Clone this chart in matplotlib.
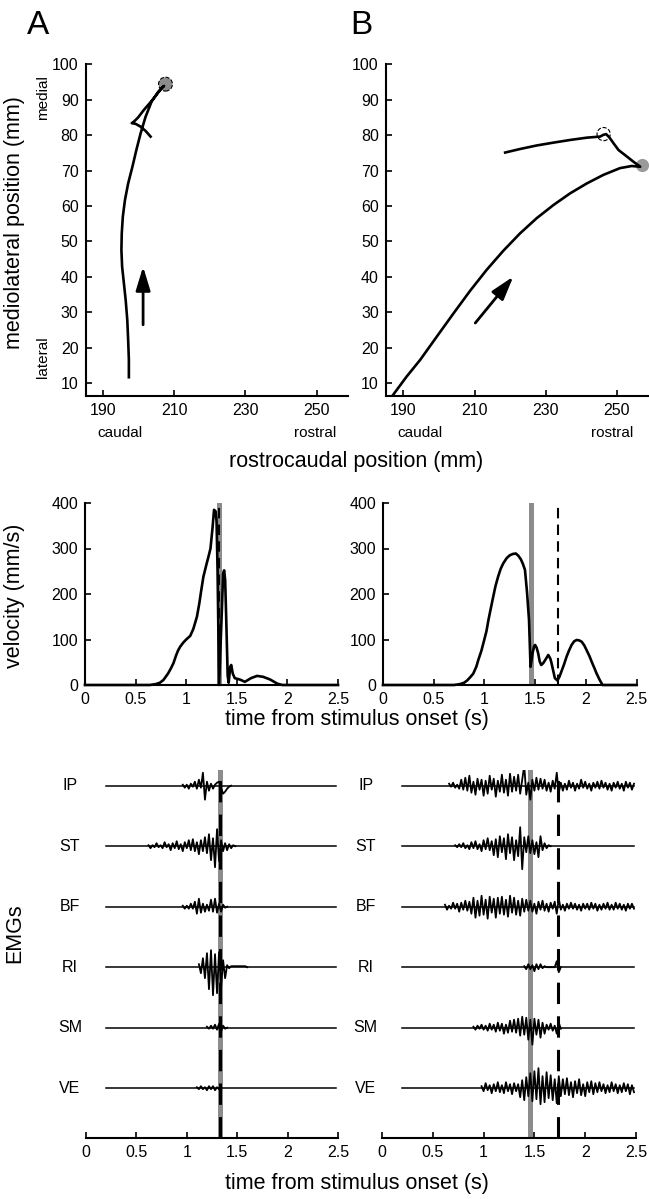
import matplotlib
matplotlib.use("Agg")
import matplotlib.pyplot as plt
import numpy as np

plt.rcParams["font.family"] = ["Liberation Sans", "DejaVu Sans"]
plt.rcParams["axes.linewidth"] = 1.5
plt.rcParams["xtick.direction"] = "in"
plt.rcParams["ytick.direction"] = "in"
plt.rcParams["xtick.major.width"] = 1.2
plt.rcParams["ytick.major.width"] = 1.2
plt.rcParams["xtick.major.size"] = 4
plt.rcParams["ytick.major.size"] = 4
plt.rcParams["xtick.labelsize"] = 11.5
plt.rcParams["ytick.labelsize"] = 11.5

W, H = 649, 1199
GRIS = "#8c8c8c"

# trajectoires du pied (mm) : rostrocaudal / mediolateral
trajA_x = [197.2, 197.2, 197.0, 196.75, 196.3, 195.8, 195.3, 195.1, 195.2, 195.5, 196.1, 197.0,
           198.2, 199.3, 200.5, 201.9, 203.6, 205.5, 207.1,
           206.6, 203.8, 201.4, 199.8, 198.6, 198.0, 199.1, 200.5, 201.9, 203.3]
trajA_y = [11.7, 16.6, 22.2, 27.9, 33.5, 38.2, 42.9, 47.6, 52.3, 57.0, 61.7, 66.4,
           71.1, 75.8, 80.5, 85.2, 89.5, 92.3, 93.9,
           93.5, 89.9, 87.1, 85.0, 83.8, 83.4, 83.2, 82.4, 81.2, 79.6]
trajB_x = [186.7, 190.9, 194.7, 199.4, 204.1, 208.75, 213.4, 218.1, 222.8, 227.5, 232.2, 236.9,
           241.6, 246.25, 250.9, 254.2, 256.6,
           254.7, 252.3, 250.5, 249.1, 247.9, 247.0, 246.25, 245.3, 241.6, 236.9, 232.2, 227.5,
           222.8, 218.6]
trajB_y = [6.2, 11.9, 16.6, 23.2, 29.75, 36.1, 42.0, 47.4, 52.3, 56.6, 60.3, 63.6,
           66.4, 68.8, 70.7, 71.3, 71.1,
           72.5, 74.4, 75.8, 77.7, 79.4, 80.3, 80.1, 79.6, 79.3, 78.65, 77.9, 77.1,
           76.1, 75.1]
# cercles : debut (gris) et fin (tirets)
cercleA = (207.5, 94.4)
cercleB_gris = (257.0, 71.6)
cercleB_tirets = (246.3, 80.3)
# fleches de direction (queue, pointe)
flecheA = [(201.2, 26.5), (201.2, 42.9)]
flecheB = [(210.2, 27.0), (220.9, 40.1)]

# vitesse (mm/s)
velA_t = [0.0, 0.64, 0.70, 0.74, 0.775, 0.82, 0.85, 0.874, 0.90, 0.92, 0.94, 0.97, 1.00, 1.04,
          1.07, 1.106, 1.13, 1.15, 1.17, 1.20, 1.22, 1.24, 1.26, 1.275, 1.29, 1.30, 1.31, 1.325,
          1.35, 1.365, 1.375, 1.385, 1.395, 1.41, 1.42, 1.435, 1.445, 1.46, 1.48, 1.53, 1.58,
          1.64, 1.70, 1.76, 1.83, 1.90, 1.95, 2.5]
velA_v = [0, 0, 2, 5, 11, 25, 37, 48, 65, 76, 84, 93, 100, 108,
          123, 150, 180, 210, 238, 265, 282, 300, 345, 385, 382, 360, 250, 0,
          150, 245, 252, 230, 150, 20, 5, 40, 44, 25, 15, 12, 7,
          15, 20, 18, 12, 3, 0, 0]
velB_t = [0, 0.70, 0.76, 0.80, 0.83, 0.86, 0.89, 0.92, 0.94, 0.97, 0.99, 1.02, 1.04, 1.06, 1.087,
          1.11, 1.135, 1.16, 1.185, 1.22, 1.25, 1.28, 1.31, 1.335, 1.36, 1.38, 1.40, 1.42, 1.44,
          1.455, 1.465, 1.475, 1.49, 1.50, 1.515, 1.53, 1.545, 1.56, 1.58, 1.60, 1.63, 1.65,
          1.66, 1.68, 1.695, 1.72, 1.74, 1.76, 1.785, 1.81, 1.835, 1.86, 1.885, 1.91, 1.935,
          1.96, 1.985, 2.007, 2.035, 2.06, 2.085, 2.105, 2.135, 2.165, 2.5]
velB_v = [0, 0, 2, 5, 10, 17, 25, 40, 55, 75, 92, 118, 143, 165, 194,
          218, 238, 255, 267, 279, 285, 288, 289, 284, 276, 266, 253, 205, 143,
          40, 55, 70, 85, 88, 82, 70, 52, 44, 48, 55, 66, 58,
          50, 30, 15, 10, 18, 30, 45, 62, 76, 88, 96, 99, 98,
          95, 87, 77, 64, 50, 37, 26, 12, 0, 0]

# evenements (s) : barre grise et ligne en tirets
barreA = (1.305, 1.355)
tiretsA = 1.328
barreB = (1.435, 1.485)
tiretsB = 1.728

# EMGs : echantillons toutes les 0.02 s a partir du debut de la bouffee (px)
emg_noms = ["IP", "ST", "BF", "RI", "SM", "VE"]
emg_pas = 0.02
emg_debut = 0.2
emg_fin = 2.48

emgA_onset = [0.96, 0.62, 0.96, 1.12, 1.20, 1.10]
emgA_IP = [1, -2, 1, -3, 2, -1, 4, -3, 6, -2, 13, -14, 4, -5, 2, -3, 1, 3, 4, -2, -8, -6, -3, -1, 0]
emgA_ST = [1, -2, 1, -1, 3, -1, 1, -2, 4, -1, 2, -4, 3, -2, 5, -3, 2, -5, 4, -2, 6, -4, 7, -5,
           4, -8, 6, -5, 9, -7, 12, -14, 8, -21, 17, -15, 6, -5, 3, -4, 2, -2, 1, 0]
emgA_BF = [1, -2, 1, -2, 3, -2, 5, -7, 8, -6, 3, -5, 2, -4, 7, -5, 8, -6, 3, -5, 2, -1, 0]
emgA_RI = [3, -6, 9, -11, 14, -22, 17, -28, 13, -26, 15, -20, 7, -11, 2, -1, 1, 1, 1, 1, 1, 1, 1, 1, 0]
emgA_SM = [1, -1, 2, -1, 3, -2, 4, -4, 2, -1, 0]
emgA_VE = [1, -1, 2, -1, 1, -2, 2, -1, 2, -2, 1, -1, 0]

emgB_onset = [0.66, 0.72, 0.62, 1.40, 0.90, 0.98]
emgB_IP = [2, -1, 3, -2, 1, -3,
           6, -4, 8, -5, 10, -7, 4, -9, 7, -4, 6, -10,
           5, -8, 10, -4, 7, -11, 5, -6, 11, -7,
           6, -10, 12, -6, 9, -5, 11, -8, 6,
           20, -9, 3, -14, 6, -5, 8, -4, 7, -3, 6, -5, 3, -6, 5, -3, 13, -7,
           3, -5, 2, -4, 5, -2, 3, -5, 2, -3, 6, -2, 4, -3, 2, -5, 3, -2, 4, -3, 5, -2, 3, -4,
           2, -5, 3, -2, 4, -3, 2, -5, 4, -2, 3, -4, 2]
emgB_ST = [1, -1, 2, -1, 3, -2, 1, -3, 4, -2, 5, -3, 2, -5, 6, -3, 8, -4, 5, -9, 7, -11, 10, -6,
           8, -13, 12, -7, 9, -14, 6, -10, 19, -23, 9, -6, 10, -7, 6, -8, 4, -11, 10, -4, 3, -2, 1, 0]
emgB_BF = [2, -3, 1, -2, 4, -2, 3, -5, 4, -3, 6, -4, 5, -7,
           9, -11, 6, -9, 11, -8, 7, -12, 10, -6, 8, -11, 9, -7, 10, -8,
           7, -10, 11, -6, 9, -8, 6, -9, 8, -5, 7,
           -4, 6, -5, 3, -7, 5, -3, 6, -4, 3, -5, 4, -2, 5,
           -7, 8,
           -3, 2, -4, 3, -2, 4, -2, 3, -3, 2, -4, 3, -2, 3, -3, 4, -2, 3, -4, 2, -3, 3, -2, 4,
           -3, 2, -3, 4, -2, 3, -3, 2, -4, 3, -2, 3, -2]
emgB_RI = [1, -2, 3, -2, 2, -4, 3, -2, 3, -1, 1, 0, 0, 0, 0, 0, 6, -5, 0]
emgB_SM = [1, -2, 2, -1, 3, -2, 2, -3, 4, -2, 3, -4, 5, -3, 4, -6, 3, -5, 7, -4,
           8, -5, 9, -8, 11, -7, 10, -12, 8, -17, 9, -7, 8, -10, 5, -6,
           3, -2, 4, -3, 2, -6, 5, -1]
emgB_VE = [2, -3, 5, -2, 3, -5, 4, -3, 6, -4, 3, -5, 6, -3, 4, -6, 5, -3, 4,
           -9, 8, -12, 11, -8, 15, -13, 17, -11, 20, -16, 12, -14, 16, -10, 13, -12, 9, -15, 12, -8,
           9, -6, 10, -7, 6, -9, 7, -5, 9, -7, 4, -8, 6, -4, 7, -6, 5,
           -4, 6, -3, 4, -5, 3, -4, 6, -3, 4, -5, 3, -4, 5, -3, 4, -6, 3, -4]

emgA = [emgA_IP, emgA_ST, emgA_BF, emgA_RI, emgA_SM, emgA_VE]
emgB = [emgB_IP, emgB_ST, emgB_BF, emgB_RI, emgB_SM, emgB_VE]

fig = plt.figure(figsize=(W / 100, H / 100), dpi=100)


def boite(g, h, d, b):
    # pixels -> fractions de figure
    return [g / W, 1 - b / H, (d - g) / W, (b - h) / H]


def texte(x, y, s, **kw):
    fig.text(x / W, 1 - y / H, s, ha="center", va="center", **kw)


def style(ax):
    ax.spines["top"].set_visible(False)
    ax.spines["right"].set_visible(False)
    ax.tick_params(pad=5)


# ---------- trajectoires
for box, xs, ys, fleche in [((85.5, 64.3, 347.5, 396), trajA_x, trajA_y, flecheA),
                            ((385.7, 64.3, 647.7, 396), trajB_x, trajB_y, flecheB)]:
    ax = fig.add_axes(boite(*box))
    style(ax)
    ax.set_xlim(185, 258.7)
    ax.set_ylim(6.4, 100)
    ax.set_xticks([190, 210, 230, 250])
    ax.set_yticks(range(10, 101, 10))
    ax.plot(xs, ys, color="k", lw=1.9, zorder=3, solid_joinstyle="round")
    ax.annotate("", xy=fleche[1], xytext=fleche[0],
                arrowprops=dict(arrowstyle="-|>,head_length=0.72,head_width=0.22",
                                mutation_scale=20, lw=2, color="k", shrinkA=0, shrinkB=0))
    if xs is trajA_x:
        ax.scatter([cercleA[0]], [cercleA[1]], s=100, c=GRIS, edgecolors="k",
                   linewidths=0.8, linestyles="--", zorder=2)
    else:
        ax.scatter([cercleB_gris[0]], [cercleB_gris[1]], s=90, c="#9a9a9a", linewidths=0,
                   zorder=2, clip_on=False)
        ax.scatter([cercleB_tirets[0]], [cercleB_tirets[1]], s=90, facecolors="none",
                   edgecolors="k", linewidths=0.8, linestyles="--", zorder=4)

# ---------- vitesse
for box, t, v, barre, tir in [((85, 503, 338, 685), velA_t, velA_v, barreA, tiretsA),
                              ((383, 503, 636.5, 685), velB_t, velB_v, barreB, tiretsB)]:
    ax = fig.add_axes(boite(*box))
    style(ax)
    ax.set_xlim(0, 2.5)
    ax.set_ylim(0, 400)
    ax.set_yticks([0, 100, 200, 300, 400])
    ax.set_xticks([0, 0.5, 1, 1.5, 2, 2.5])
    ax.set_xticklabels(["0", "0.5", "1", "1.5", "2", "2.5"])
    ax.axvspan(barre[0], barre[1], color=GRIS, lw=0, zorder=1)
    ax.axvline(tir, color="k", lw=1.5, ls=(0, (5, 3)), zorder=2)
    ax.plot(t, v, color="k", lw=1.9, zorder=3, clip_on=False, solid_joinstyle="round")

# ---------- EMGs
for box, onsets, traces, barre, tir in [((86, 770, 338, 1138), emgA_onset, emgA, barreA, tiretsA),
                                        ((382, 770, 636, 1138), emgB_onset, emgB, barreB, tiretsB)]:
    ax = fig.add_axes(boite(*box))
    style(ax)
    ax.spines["left"].set_visible(False)
    ax.set_yticks([])
    ax.set_xlim(0, 2.5)
    ax.set_ylim(-368, 0)
    ax.set_xticks([0, 0.5, 1, 1.5, 2, 2.5])
    ax.set_xticklabels(["0", "0.5", "1", "1.5", "2", "2.5"])
    ax.axvspan(barre[0], barre[1], color=GRIS, lw=0, zorder=1)
    ax.axvline(tir, color="k", lw=2.2, ls=(0, (7, 4)), zorder=4)
    for i, nom in enumerate(emg_noms):
        base = -(15.7 + 60.5 * i)
        ax.plot([emg_debut, emg_fin], [base, base], color="k", lw=1.1, zorder=2)
        tt = onsets[i] + emg_pas * np.arange(len(traces[i]))
        ax.plot(tt, base + np.array(traces[i]), color="k", lw=1.3, zorder=3)
        ax.text(-0.16, base, nom, ha="center", va="center", fontsize=11.5, clip_on=False)

# ---------- textes
texte(38, 25, "A", fontsize=24)
texte(361, 25, "B", fontsize=24)
texte(15, 223, "mediolateral position (mm)", rotation=90, fontsize=15.5)
texte(43, 98, "medial", rotation=90, fontsize=11)
texte(43, 357, "lateral", rotation=90, fontsize=11)
for xc, xr in [(120, 315), (420, 612)]:
    texte(xc, 433, "caudal", fontsize=11)
    texte(xr, 433, "rostral", fontsize=11)
texte(356, 462, "rostrocaudal position (mm)", fontsize=15.5)
texte(15, 596, "velocity (mm/s)", rotation=90, fontsize=15.5)
texte(356.5, 719, "time from stimulus onset (s)", fontsize=15.5)
texte(15, 933, "EMGs", rotation=90, fontsize=15.5)
texte(356.5, 1183, "time from stimulus onset (s)", fontsize=15.5)

fig.savefig("out.png", dpi=100)
